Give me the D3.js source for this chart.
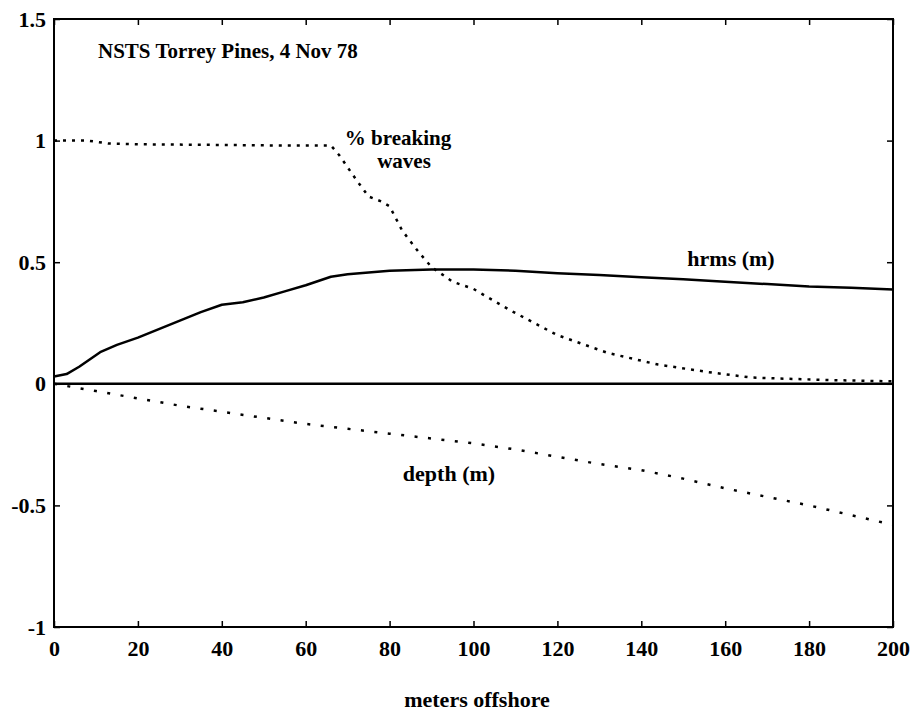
<!DOCTYPE html>
<html>
<head>
<meta charset="utf-8">
<script src="https://cdn.jsdelivr.net/npm/d3@7"></script>
<style>
  html, body { margin: 0; padding: 0; background: #fff; }
  svg text { font-family: "Liberation Serif", "DejaVu Serif", serif; font-weight: bold; fill: #000; }
</style>
</head>
<body>
<svg id="chart" width="919" height="716"></svg>
<script>
// ---- data ----
const hrmsX = [0, 3, 6, 11, 15, 20, 25, 30, 35, 40, 45, 50, 55, 60, 66, 70, 80, 90, 100, 110, 120, 130, 140, 150, 160, 170, 180, 190, 200];
const hrmsY = [0.03, 0.04, 0.07, 0.13, 0.16, 0.19, 0.225, 0.26, 0.295, 0.325, 0.335, 0.355, 0.38, 0.405, 0.44, 0.45, 0.465, 0.47, 0.47, 0.465, 0.455, 0.447, 0.438, 0.43, 0.42, 0.41, 0.40, 0.395, 0.388];

const breakX = [0, 8, 13, 20, 40, 54, 66, 68, 72, 75, 78, 80, 83, 87, 90, 95, 100, 109, 120, 132, 144, 156, 166, 176, 186, 200];
const breakY = [1.0, 1.0, 0.988, 0.985, 0.982, 0.98, 0.98, 0.94, 0.84, 0.77, 0.75, 0.73, 0.63, 0.54, 0.48, 0.42, 0.39, 0.30, 0.20, 0.127, 0.079, 0.048, 0.026, 0.02, 0.015, 0.01];

const depthX = [0, 10, 20, 30, 40, 50, 60, 70, 80, 90, 100, 110, 120, 130, 140, 150, 160, 170, 180, 190, 200];
const depthY = [0, -0.03, -0.06, -0.09, -0.115, -0.14, -0.165, -0.185, -0.205, -0.225, -0.245, -0.27, -0.3, -0.33, -0.355, -0.39, -0.43, -0.465, -0.5, -0.54, -0.58];

const zeroX = [0, 200];
const zeroY = [0, 0];

const xTicks = [0, 20, 40, 60, 80, 100, 120, 140, 160, 180, 200];
const xTickLabels = ["0", "20", "40", "60", "80", "100", "120", "140", "160", "180", "200"];
const yTicks = [-1, -0.5, 0, 0.5, 1, 1.5];
const yTickLabels = ["-1", "-0.5", "0", "0.5", "1", "1.5"];

const titleText = "NSTS Torrey Pines, 4 Nov 78";
const xLabel = "meters offshore";

// ---- layout ----
const svg = d3.select("#chart");
const mLeft = 54, mRight = 893, mTop = 19, mBottom = 627;

const x = d3.scaleLinear().domain([0, 200]).range([mLeft, mRight]);
const y = d3.scaleLinear().domain([-1, 1.5]).range([mBottom, mTop]);

const line = d3.line().x(d => x(d[0])).y(d => y(d[1]));
const zip = (a, b) => a.map((v, i) => [v, b[i]]);

// axes: bottom with labels, inward ticks
const xAxis = d3.axisBottom(x).tickValues(xTicks)
  .tickFormat((d, i) => xTickLabels[i]).tickSizeInner(-6).tickSizeOuter(0).tickPadding(13);
const gx = svg.append("g").attr("transform", `translate(0,${mBottom})`).call(xAxis);
gx.select(".domain").remove();
gx.selectAll("line").attr("stroke", "#000").attr("stroke-width", 1.5);
gx.selectAll("text").style("font-size", "22px").attr("dy", "0.71em");

const xTop = d3.axisTop(x).tickValues(xTicks).tickFormat("").tickSizeInner(-6).tickSizeOuter(0);
const gxt = svg.append("g").attr("transform", `translate(0,${mTop})`).call(xTop);
gxt.select(".domain").remove();
gxt.selectAll("line").attr("stroke", "#000").attr("stroke-width", 1.5);

const yAxis = d3.axisLeft(y).tickValues(yTicks)
  .tickFormat((d, i) => yTickLabels[i]).tickSizeInner(-6).tickSizeOuter(0).tickPadding(8);
const gy = svg.append("g").attr("transform", `translate(${mLeft},0)`).call(yAxis);
gy.select(".domain").remove();
gy.selectAll("line").attr("stroke", "#000").attr("stroke-width", 1.5);
gy.selectAll("text").style("font-size", "22px");

const yRight = d3.axisRight(y).tickValues(yTicks).tickFormat("").tickSizeInner(-6).tickSizeOuter(0);
const gyr = svg.append("g").attr("transform", `translate(${mRight},0)`).call(yRight);
gyr.select(".domain").remove();
gyr.selectAll("line").attr("stroke", "#000").attr("stroke-width", 1.5);

// frame
svg.append("rect")
  .attr("x", x(0)).attr("y", y(1.5))
  .attr("width", x(200) - x(0)).attr("height", y(-1) - y(1.5))
  .attr("fill", "none").attr("stroke", "#000").attr("stroke-width", 2);

// zero line
svg.append("path").datum(zip(zeroX, zeroY)).attr("d", line)
  .attr("fill", "none").attr("stroke", "#000").attr("stroke-width", 2.5);

// hrms solid
svg.append("path").datum(zip(hrmsX, hrmsY)).attr("d", line)
  .attr("fill", "none").attr("stroke", "#000").attr("stroke-width", 2.5)
  .attr("stroke-linejoin", "round");

// % breaking dotted
svg.append("path").datum(zip(breakX, breakY)).attr("d", line)
  .attr("fill", "none").attr("stroke", "#000").attr("stroke-width", 2.5)
  .attr("stroke-dasharray", "3,6");

// depth dotted
svg.append("path").datum(zip(depthX, depthY)).attr("d", line)
  .attr("fill", "none").attr("stroke", "#000").attr("stroke-width", 2.5)
  .attr("stroke-dasharray", "3,10.5");

// annotations
svg.append("text").attr("x", 98).attr("y", 58).style("font-size", "21px").text(titleText);
svg.append("text").attr("x", 398).attr("y", 145).attr("text-anchor", "middle").style("font-size", "21px").text("% breaking");
svg.append("text").attr("x", 404).attr("y", 168).attr("text-anchor", "middle").style("font-size", "21px").text("waves");
svg.append("text").attr("x", 731).attr("y", 266).attr("text-anchor", "middle").style("font-size", "22px").text("hrms (m)");
svg.append("text").attr("x", 449).attr("y", 481).attr("text-anchor", "middle").style("font-size", "22px").text("depth (m)");
svg.append("text").attr("x", 477).attr("y", 707).attr("text-anchor", "middle").style("font-size", "22px").text(xLabel);
</script>
</body>
</html>
